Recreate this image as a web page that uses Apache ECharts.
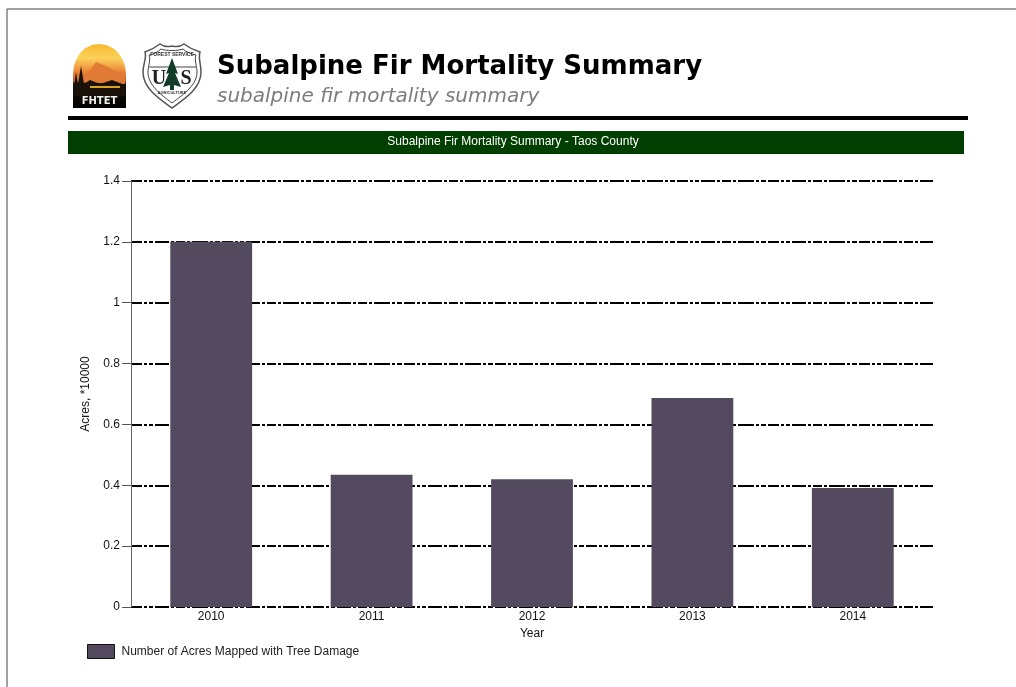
<!DOCTYPE html>
<html><head><meta charset="utf-8">
<style>html,body{margin:0;padding:0;background:#fff}#c{width:1016px;height:687px}</style>
<script src="https://cdn.jsdelivr.net/npm/echarts@6/dist/echarts.min.js"></script>
</head><body><div id="c"></div>
<script>
const categories = ['2010','2011','2012','2013','2014'];
const acres = [1.2, 0.435, 0.42, 0.687, 0.391];
const yTicks = [0, 0.2, 0.4, 0.6, 0.8, 1, 1.2, 1.4];
const seriesName = 'Number of Acres Mapped with Tree Damage';
const titleText = 'Subalpine Fir Mortality Summary';
const subtitleText = 'subalpine fir mortality summary';
const bannerText = 'Subalpine Fir Mortality Summary - Taos County';
const yName = 'Acres, *10000';
const xName = 'Year';

const chart = echarts.init(document.getElementById('c'), null, {renderer:'canvas'});
const sans = '"Liberation Sans", Arial, sans-serif';
const dash = [11,2,3,2,4,2,14,2,3,2,9,2,3,2,16,2,3,2,5,2];
const domeTop = 'M73 108 L73 76 C73 56 85 44 99 44 C113 44 126 56 126 76 L126 108 Z';
const shield = 'M145 52 C151 50 156 47 160 44 C164 47 168 47 172 46 C176 47 180 47 184 44 C188 47 193 50 200 52 C198 58 201 64 201 72 C201 88 186 98 172 108 C158 98 143 88 143 72 C143 64 147 58 145 52 Z';
const inner = 'M149 55 C154 54 158 52 161 49 C165 51 179 51 183 49 C186 52 191 54 196 55 C194 60 197 66 197 72 C197 85 184 94 172 103 C160 94 148 85 148 72 C148 66 151 60 149 55 Z';
echarts.graphic.registerShape('logoDome', echarts.graphic.extendPath(domeTop, {}));
echarts.graphic.registerShape('logoShield', echarts.graphic.extendPath(shield, {}));
echarts.graphic.registerShape('logoInner', echarts.graphic.extendPath(inner, {}));
chart.setOption({
  animation:false,
  backgroundColor:'#fff',
  grid:{left:131,right:83,top:181,bottom:80,containLabel:false},
  legend:{left:82,top:639,itemWidth:27,itemHeight:14,itemGap:8,icon:'rect',
    itemStyle:{borderColor:'#111',borderWidth:1},
    textStyle:{fontFamily:sans,fontSize:12,color:'#222',padding:[1,0,0,2]},
    data:[seriesName]},
  xAxis:{type:'category',data:categories,name:xName,nameLocation:'middle',nameGap:18,
    nameTextStyle:{fontFamily:sans,fontSize:12,color:'#111'},
    axisTick:{show:false},
    axisLine:{show:false},
    axisLabel:{fontFamily:sans,fontSize:12,color:'#111',margin:4}},
  yAxis:{type:'value',min:0,max:1.4,interval:0.2,name:yName,nameLocation:'middle',nameGap:39,
    nameTextStyle:{fontFamily:sans,fontSize:12,color:'#111'},
    axisLine:{show:true,lineStyle:{color:'#666',width:1}},
    axisTick:{show:true,length:9,lineStyle:{color:'#555',width:1}},
    axisLabel:{fontFamily:sans,fontSize:12,color:'#111',margin:11,
      formatter:v=>String(yTicks.find(t=>Math.abs(t-v)<1e-6))},
    splitLine:{show:true,lineStyle:{color:'#000',width:2,type:dash}}},
  series:[{name:seriesName,type:'bar',data:acres,barWidth:'51%',
    itemStyle:{color:'#534a5f'},z:3}],
  graphic:[
    {type:'rect',silent:true,z:10,shape:{x:7,y:9,width:1100,height:800},style:{fill:'none',stroke:'#444',lineWidth:1}},
    {type:'logoDome',silent:true,z:10,style:{fill:new echarts.graphic.LinearGradient(0,0,0,1,[
      {offset:0,color:'#f9b92e'},{offset:0.22,color:'#fbd25a'},{offset:0.42,color:'#ec8a38'},{offset:0.58,color:'#c9592a'},{offset:0.62,color:'#1c1408'},{offset:1,color:'#000'}])}},
    {type:'polygon',silent:true,z:11,shape:{points:[[74,82],[80,72],[84,78],[96,62],[106,66],[114,70],[125,74],[125,84]]},style:{fill:'#e07a35'}},
    {type:'polygon',silent:true,z:12,shape:{points:[[74,88],[76,72],[78,84],[81,66],[84,84],[90,80],[100,84],[112,80],[125,85],[125,96],[74,96]]},style:{fill:'#1a1208'}},
    {type:'rect',silent:true,z:13,shape:{x:90,y:86,width:30,height:2},style:{fill:'#d8a520'}},
    {type:'text',silent:true,z:14,style:{x:99.5,y:101,text:'FHTET',align:'center',verticalAlign:'middle',fill:'#eee',font:'bold 10px "DejaVu Sans"'}},
    {type:'logoShield',silent:true,z:10,style:{fill:'#fff',stroke:'#555',lineWidth:1.5}},
    {type:'logoInner',silent:true,z:11,style:{fill:'#fff',stroke:'#444',lineWidth:1}},
    {type:'line',silent:true,z:11,shape:{x1:149,y1:67,x2:196,y2:67},style:{stroke:'#444',lineWidth:1}},
    {type:'polygon',silent:true,z:12,shape:{points:[[172,58],[178,74],[175,73],[181,87],[174,85],[174,90],[170,90],[170,85],[163,87],[169,73],[166,74]]},style:{fill:'#123c2a'}},
    {type:'text',silent:true,z:12,style:{x:159,y:79,text:'U',align:'center',verticalAlign:'middle',fill:'#222',font:'bold 20px "Liberation Serif"'}},
    {type:'text',silent:true,z:12,style:{x:186,y:79,text:'S',align:'center',verticalAlign:'middle',fill:'#222',font:'bold 20px "Liberation Serif"'}},
    {type:'text',silent:true,z:12,style:{x:172,y:55,text:'FOREST SERVICE',align:'center',verticalAlign:'middle',fill:'#333',font:'bold 5px "Liberation Sans"'}},
    {type:'text',silent:true,z:12,style:{x:172,y:93,text:'AGRICULTURE',align:'center',verticalAlign:'middle',fill:'#333',font:'bold 4px "Liberation Sans"'}},
    {type:'text',silent:true,z:10,style:{x:217,y:67,text:titleText,verticalAlign:'middle',fill:'#000',font:'bold 26px "DejaVu Sans"'}},
    {type:'text',silent:true,z:10,style:{x:217,y:97,text:subtitleText,verticalAlign:'middle',fill:'#7d7d7d',font:'italic 20px "DejaVu Sans"'}},
    {type:'rect',silent:true,z:10,shape:{x:68,y:116,width:900,height:4},style:{fill:'#000'}},
    {type:'rect',silent:true,z:10,shape:{x:68,y:131,width:896,height:23},style:{fill:'#003f00'}},
    {type:'text',silent:true,z:11,style:{x:513,y:142,text:bannerText,align:'center',verticalAlign:'middle',fill:'#fff',font:'12px "Liberation Sans"'}}
  ]
});
</script></body></html>
